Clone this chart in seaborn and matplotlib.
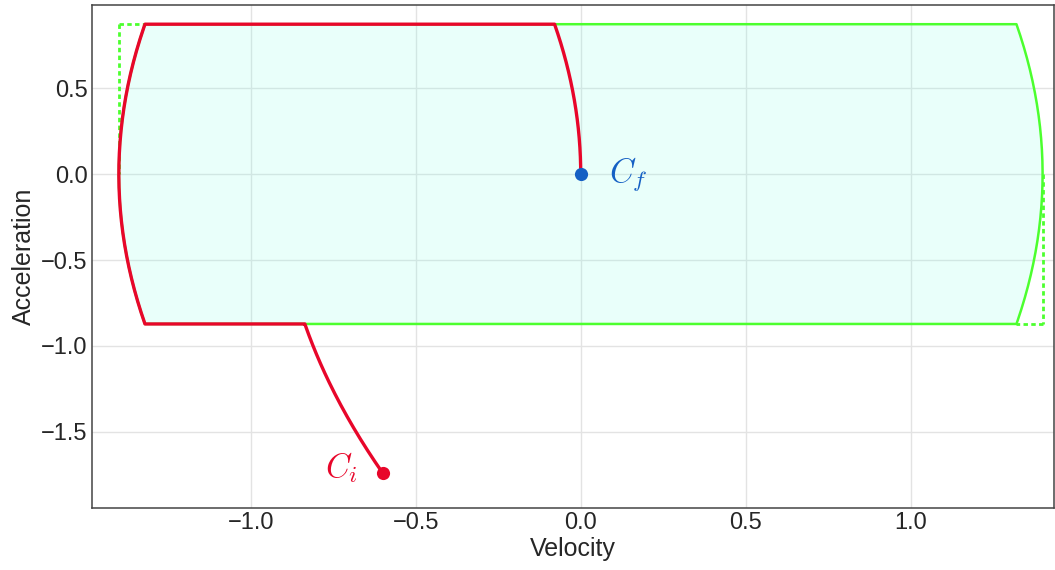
import numpy as np
import pandas as pd
import matplotlib
matplotlib.use('Agg')
import matplotlib.pyplot as plt
import seaborn as sns

# limits of the motion
v_max = 1.4
a_max = 0.872
j_max = 4.8

# start / goal states (velocity, acceleration)
c_start = [-0.6, -1.74]
c_goal = [0.0, 0.0]
labels = ['$C_i$', '$C_f$']

red = '#e8062a'
green = '#4cff2e'
blue = '#1560c4'
fill_col = '#7effe4'

sns.set_theme(style='whitegrid')
plt.rcParams['font.family'] = ['Liberation Sans', 'DejaVu Sans']
plt.rcParams['mathtext.fontset'] = 'cm'

n = 80
a_up = np.linspace(-a_max, a_max, n)
v_lim = v_max - a_max ** 2 / (2 * j_max)

# boundary of reachable region: top line, right parabola, bottom line, left parabola
bnd_v = np.concatenate([[-v_lim, v_lim], v_max - a_up[::-1] ** 2 / (2 * j_max),
                        [v_lim, -v_lim], -v_max + a_up ** 2 / (2 * j_max)])
bnd_a = np.concatenate([[a_max, a_max], a_up[::-1], [-a_max, -a_max], a_up])
boundary = pd.DataFrame({'v': bnd_v, 'a': bnd_a})

# red trajectory from C_i to C_f
a1 = np.linspace(c_start[1], -a_max, n)
v1 = c_start[0] + (a1 ** 2 - c_start[1] ** 2) / (2 * j_max)
v2 = -v_max + a_up ** 2 / (2 * j_max)
a3 = np.linspace(a_max, c_goal[1], n)
v3 = c_goal[0] - (a3 ** 2 - c_goal[1] ** 2) / (2 * j_max)
path = pd.DataFrame({'v': np.concatenate([v1, v2, v3]),
                     'a': np.concatenate([a1, a_up, a3])})

fig, ax = plt.subplots(figsize=(10.55, 5.7), dpi=100)
fig.subplots_adjust(left=0.087, right=0.9995, top=0.991, bottom=0.109)

ax.fill(boundary['v'], boundary['a'], color=fill_col, alpha=0.17, lw=0, zorder=1.5)
ax.plot([-v_max, -v_lim], [a_max, a_max], color=green, lw=2, ls=(0, (1.6, 1.2)), zorder=2)
ax.plot([-v_max, -v_max], [a_max, 0], color=green, lw=2, ls=(0, (1.6, 1.2)), zorder=2)
ax.plot([v_max, v_max], [0, -a_max], color=green, lw=2, ls=(0, (1.6, 1.2)), zorder=2)
ax.plot([v_max, v_lim], [-a_max, -a_max], color=green, lw=2, ls=(0, (1.6, 1.2)), zorder=2)
sns.lineplot(data=boundary, x='v', y='a', sort=False, estimator=None, color=green, lw=1.8, ax=ax, zorder=3)
sns.lineplot(data=path, x='v', y='a', sort=False, estimator=None, color=red, lw=2.4, ax=ax, zorder=4)

ax.scatter([c_start[0]], [c_start[1]], s=90, color=red, zorder=5, linewidths=0)
ax.scatter([c_goal[0]], [c_goal[1]], s=90, color=blue, zorder=5, linewidths=0)
ax.text(c_start[0] - 0.075, c_start[1] + 0.03, labels[0], color=red, fontsize=24, ha='right', va='center')
ax.text(c_goal[0] + 0.085, c_goal[1] + 0.0, labels[1], color=blue, fontsize=24, ha='left', va='center')

ax.set_xlim(-1.482, 1.436)
ax.set_ylim(-1.942, 0.983)
ax.set_xticks([-1.0, -0.5, 0.0, 0.5, 1.0])
ax.set_yticks([-1.5, -1.0, -0.5, 0.0, 0.5])
ax.set_xlabel('Velocity', fontsize=18, labelpad=2)
ax.set_ylabel('Acceleration', fontsize=18, labelpad=4)
ax.tick_params(labelsize=17, length=0, pad=3)
ax.grid(color='#e3e3e3', lw=1)
for s in ax.spines.values():
    s.set_color('#444444')
    s.set_linewidth(1.1)

fig.savefig('out.png', dpi=100)
